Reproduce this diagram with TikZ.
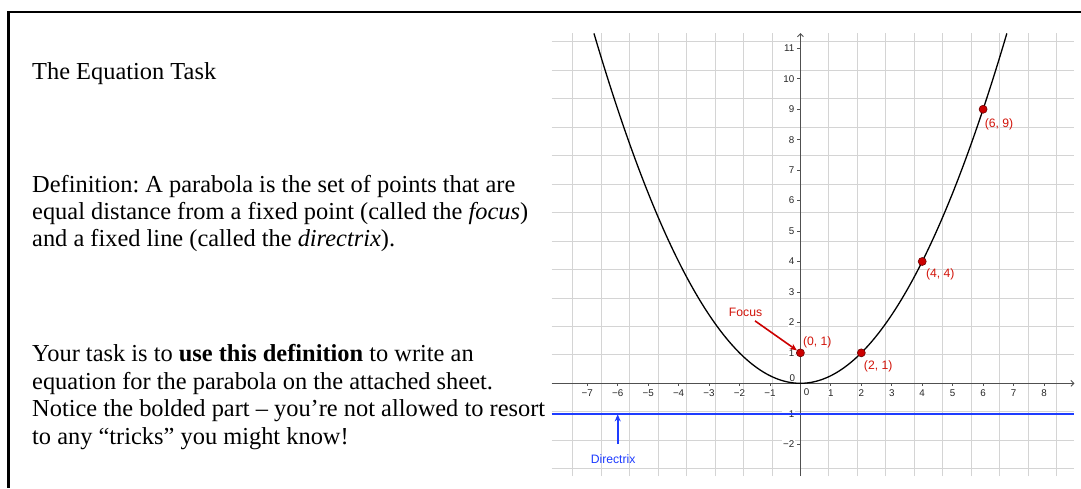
\documentclass[tikz,border=0pt]{standalone}
\usepackage{fontspec}
\setmainfont{Liberation Serif}
\newfontfamily\gsans{Liberation Sans}
\usetikzlibrary{arrows.meta}
\frenchspacing
\definecolor{gridc}{RGB}{212,212,212}
\definecolor{axisc}{RGB}{80,80,80}
\definecolor{ptred}{RGB}{204,0,0}
\definecolor{ptdark}{RGB}{110,0,0}
\definecolor{labred}{RGB}{210,20,10}
\definecolor{dirblue}{RGB}{30,60,255}
\tikzset{
  body/.style={anchor=base west, inner sep=0pt, font=\fontsize{24.4}{28}\selectfont},
  xlab/.style={fill=white, inner sep=0.8pt, font=\gsans\fontsize{9.8}{11}\selectfont, text=black!85},
  ylab/.style={fill=white, inner sep=0.8pt, anchor=east, font=\gsans\fontsize{9.8}{11}\selectfont, text=black!85},
  gpt/.style={circle, fill=ptred, draw=ptdark, line width=0.6pt, minimum size=8pt, inner sep=0pt},
  plab/.style={inner sep=0pt, font=\gsans\fontsize{12.2}{13}\selectfont, text=labred},
  dlab/.style={inner sep=0pt, font=\gsans\fontsize{12.2}{13}\selectfont, text=dirblue},
}
\begin{document}
\begin{tikzpicture}[x=1pt,y=-1pt]
\useasboundingbox (0,0) rectangle (1081,488);
\fill[white] (0,0) rectangle (1081,488);
% frame
\draw[line width=2.5pt] (1081,12) -- (8.7,12) -- (8.7,488);
% text
\node[body] (title) at (32,79) {The Equation Task};
\node[body] (d1) at (32,192) {Definition: A parabola is the set of points that are};
\node[body] (d2) at (32,219.3) {equal distance from a fixed point (called the \textit{focus})};
\node[body] (d3) at (32,246.6) {and a fixed line (called the \textit{directrix}).};
\node[body] (p1) at (32,361.7) {Your task is to \textbf{use this definition} to write an};
\node[body] (p2) at (32,389) {equation for the parabola on the attached sheet.};
\node[body] (p3) at (32,416.5) {Notice the bolded part – you’re not allowed to resort};
\node[body] (p4) at (32,444) {to any “tricks” you might know!};
% graph
\begin{scope}[shift={(800.4pt,-383.3pt)}, x=30.45pt, y=30.45pt]
  \draw[gridc, line width=0.8pt] (-8.17,-3.05) grid (9,11.5);
  % x tick labels
  \foreach \i in {1,...,7} \node[xlab] (xn\i) at (-\i,-0.31) {−\i};
  \foreach \i in {1,...,8} \node[xlab] (xp\i) at (\i,-0.31) {\i};
  \node[xlab] (x0) at (0.2,-0.29) {0};
  % y tick labels
  \foreach \j in {1,...,11} \node[ylab] (yp\j) at (-0.17,\j) {\j};
  \foreach \j in {1,2} \node[ylab] (yn\j) at (-0.17,-\j) {−\j};
  \node[ylab] (y0) at (-0.14,0.16) {0};
  % ticks
  \foreach \i in {-7,...,8} \draw[axisc, line width=0.8pt] (\i,0) -- (\i,-0.1);
  \foreach \j in {-2,...,11} \draw[axisc, line width=0.8pt] (0,\j) -- (-0.1,\j);
  % axes
  \draw[axisc, line width=0.9pt, -{Straight Barb[length=3pt,width=6pt]}] (-8.17,0) -- (9,0);
  \draw[axisc, line width=0.9pt, -{Straight Barb[length=3pt,width=6pt]}] (0,-3.05) -- (0,11.5);
  % parabola
  \draw[black, line width=1.3pt, domain=-6.78:6.78, samples=150, smooth] plot (\x,{\x*\x/4});
  % directrix
  \draw[dirblue, line width=1.8pt] (-8.17,-1) -- (9,-1);
  \coordinate (ds) at (-6,-2);
  \coordinate (de) at (-6,-1.02);
  \draw[dirblue, line width=1.6pt, -{Stealth[length=7pt,width=6pt]}] (ds) -- (de);
  \node[dlab] (dirlbl) at (-6.15,-2.5) {Directrix};
  % points
  \node[gpt] (F) at (0,1) {};
  \node[gpt] (P21) at (2,1) {};
  \node[gpt] (P44) at (4,4) {};
  \node[gpt] (P69) at (6,9) {};
  \node[plab, anchor=west] (l01) at (0.08,1.33) {(0, 1)};
  \node[plab, anchor=west] (l21) at (2.08,0.57) {(2, 1)};
  \node[plab, anchor=west] (l44) at (4.12,3.58) {(4, 4)};
  \node[plab, anchor=west] (l69) at (6.05,8.5) {(6, 9)};
  % focus
  \node[plab] (focus) at (-1.8,2.32) {Focus};
  \coordinate (fs) at (-1.49,2.05);
  \draw[ptred, line width=1.6pt, -{Stealth[length=7pt,width=6pt]}] (fs) -- (F);
\end{scope}
\end{tikzpicture}
\end{document}
